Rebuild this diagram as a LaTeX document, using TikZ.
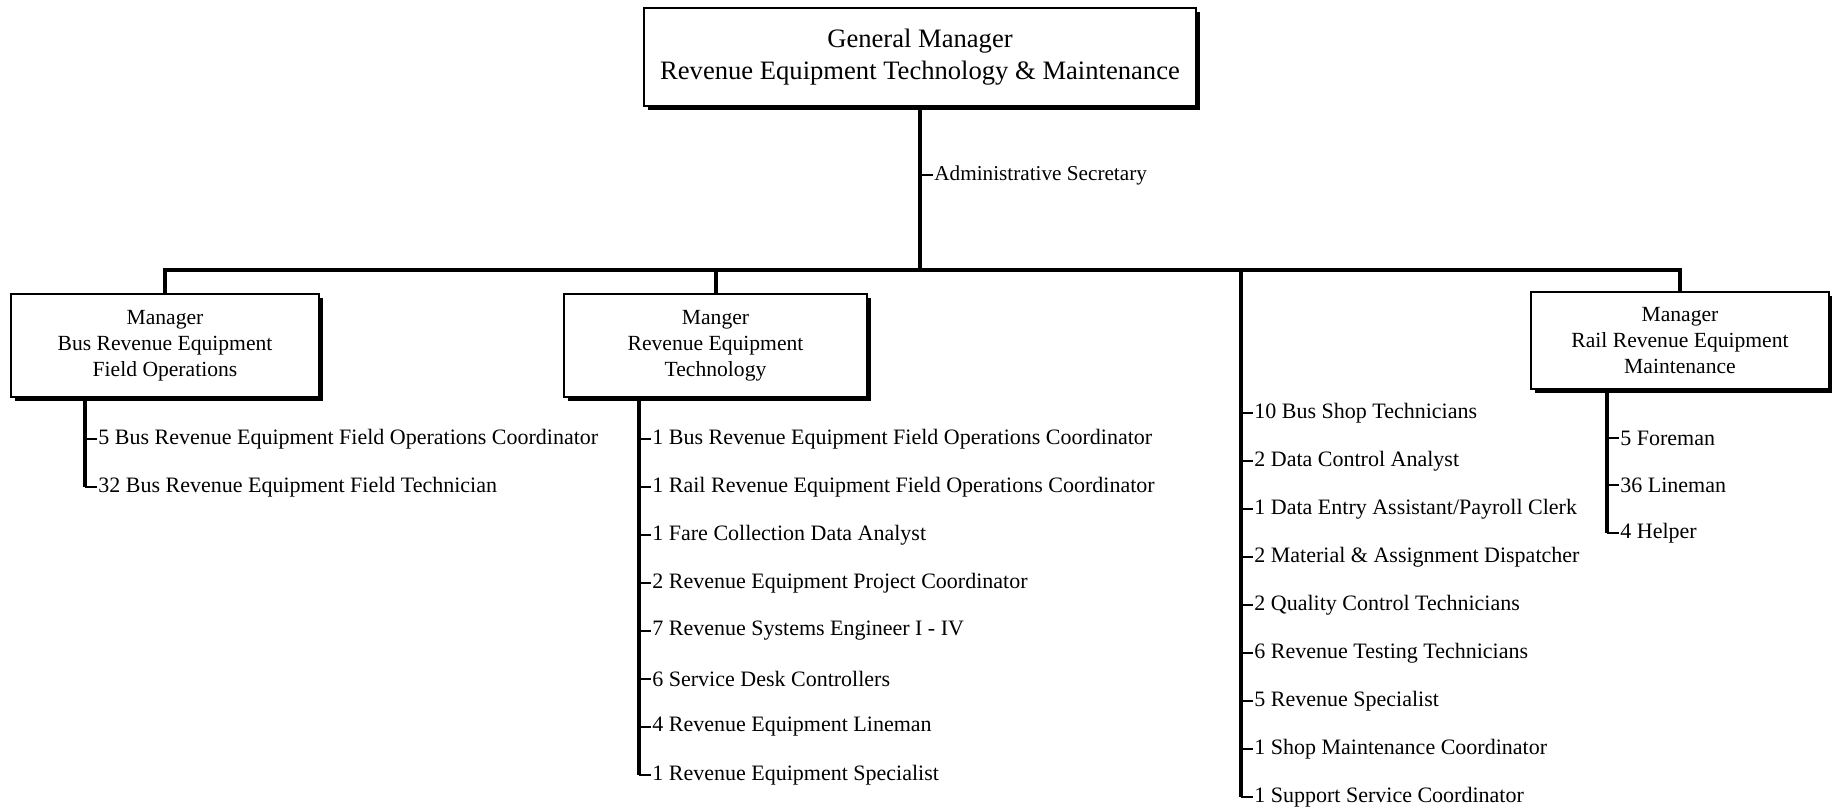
\documentclass[tikz,border=0pt]{standalone}
\usepackage{fontspec}
\setmainfont{Liberation Serif}
\usetikzlibrary{shadows}
\begin{document}
\begin{tikzpicture}[x=0.5pt,y=-0.5pt,
  mgr/.style={draw, line width=1.3pt, fill=white, align=center, inner sep=0pt,
    font=\fontsize{10.8}{13}\selectfont,
    drop shadow={shadow xshift=2.2pt, shadow yshift=-2.2pt, fill=black, opacity=1}},
  conn/.style={line width=2pt},
  tick/.style={line width=1.1pt},
  item/.style={anchor=west, inner sep=0.5pt, font=\fontsize{11}{12}\selectfont},
]
\useasboundingbox (0,0) rectangle (1832,811);

\node[mgr, minimum width=276pt, minimum height=49pt, font=\fontsize{13.3}{15.8}\selectfont] (gm) at (920,57)
  {General Manager\\Revenue Equipment Technology \& Maintenance};

\node[mgr, minimum width=154pt, minimum height=51.5pt] (b1) at (165,345.5)
  {Manager\\Bus Revenue Equipment\\Field Operations};
\node[mgr, minimum width=151.5pt, minimum height=51.5pt] (b2) at (715.5,345.5)
  {Manger\\Revenue Equipment\\Technology};
\node[mgr, minimum width=149pt, minimum height=48.5pt] (b4) at (1680,340.5)
  {Manager\\Rail Revenue Equipment\\Maintenance};

\coordinate (bus) at (920,270);
\coordinate (rc) at (1241,270);

% trunk
\draw[conn] (gm.south) -- (bus);
\draw[conn] (b1.north) |- (b4.north |- bus) -- (b4.north);
\draw[conn] (b2.north) -- (b2.north |- bus);

% admin
\node[item, font=\fontsize{10.6}{12}\selectfont] (adm) at (933,175) {Administrative Secretary};
\draw[tick] (adm.west -| gm.south) -- (adm.west);

% column 1
\coordinate (c1) at (85,397);
\node[item] (a1) at (97,439) {5 Bus Revenue Equipment Field Operations Coordinator};
\node[item] (a2) at (97,487) {32 Bus Revenue Equipment Field Technician};
\draw[conn] (c1) -- (c1 |- a2.west);
\foreach \n in {a1,a2}
  \draw[tick] (\n.west -| c1) -- (\n.west);

% column 2
\coordinate (c2) at (639,397);
\node[item] (m1) at (651,439) {1 Bus Revenue Equipment Field Operations Coordinator};
\node[item] (m2) at (651,487) {1 Rail Revenue Equipment Field Operations Coordinator};
\node[item] (m3) at (651,535) {1 Fare Collection Data Analyst};
\node[item] (m4) at (651,583) {2 Revenue Equipment Project Coordinator};
\node[item] (m5) at (651,631) {7 Revenue Systems Engineer I - IV};
\node[item] (m6) at (651,679) {6 Service Desk Controllers};
\node[item] (m7) at (651,727) {4 Revenue Equipment Lineman};
\node[item] (m8) at (651,775) {1 Revenue Equipment Specialist};
\draw[conn] (c2) -- (c2 |- m8.west);
\foreach \n in {m1,m2,m3,m4,m5,m6,m7,m8}
  \draw[tick] (\n.west -| c2) -- (\n.west);

% column 3 (no box)
\node[item] (r1) at (1253,413) {10 Bus Shop Technicians};
\node[item] (r2) at (1253,461) {2 Data Control Analyst};
\node[item] (r3) at (1253,509) {1 Data Entry Assistant/Payroll Clerk};
\node[item] (r4) at (1253,557) {2 Material \& Assignment Dispatcher};
\node[item] (r5) at (1253,605) {2 Quality Control Technicians};
\node[item] (r6) at (1253,653) {6 Revenue Testing Technicians};
\node[item] (r7) at (1253,701) {5 Revenue Specialist};
\node[item] (r8) at (1253,749) {1 Shop Maintenance Coordinator};
\node[item] (r9) at (1253,797) {1 Support Service Coordinator};
\draw[conn] (rc) -- (rc |- r9.west);
\foreach \n in {r1,r2,r3,r4,r5,r6,r7,r8,r9}
  \draw[tick] (\n.west -| rc) -- (\n.west);

% column 4
\coordinate (c4) at (1607,389);
\node[item] (f1) at (1619,438) {5 Foreman};
\node[item] (f2) at (1619,485) {36 Lineman};
\node[item] (f3) at (1619,533) {4 Helper};
\draw[conn] (c4) -- (c4 |- f3.west);
\foreach \n in {f1,f2,f3}
  \draw[tick] (\n.west -| c4) -- (\n.west);
\end{tikzpicture}
\end{document}
